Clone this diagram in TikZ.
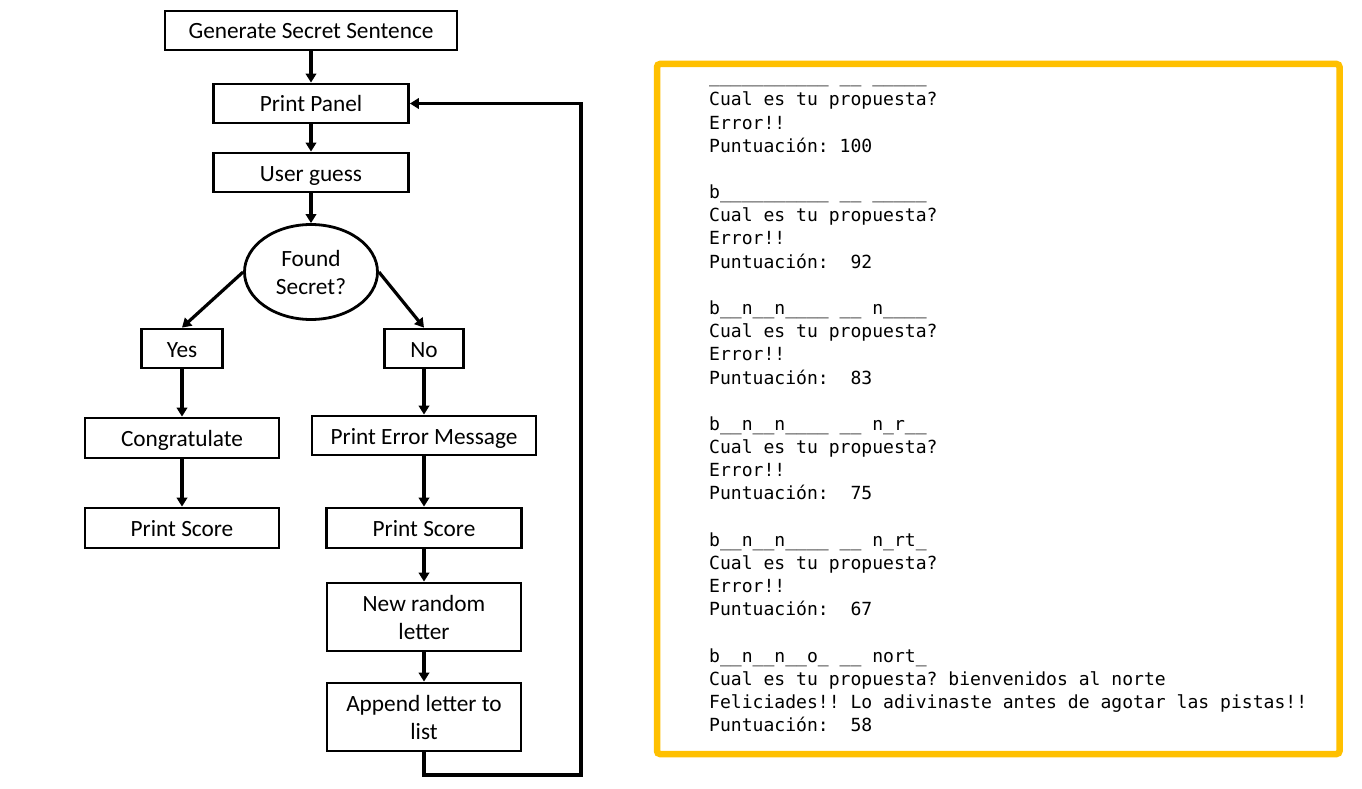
\documentclass[tikz,border=0pt]{standalone}
\usepackage{fontspec}
\setmainfont{Carlito}
\newfontfamily\termfont{DejaVu Sans Mono}
\usetikzlibrary{shapes.geometric,arrows.meta}
\definecolor{termyellow}{HTML}{FFC000}

\begin{document}
\begin{tikzpicture}[x=1pt,y=-1pt,
  flow/.style={font=\fontsize{23.3}{28}\selectfont, align=center, inner sep=0pt},
  box/.style={flow, draw, line width=2.8pt, rectangle},
  oneline/.style={text height=18pt, text depth=1pt},
  decision/.style={flow, draw, line width=2.8pt, ellipse, minimum width=133pt, minimum height=95pt},
  link/.style={line width=3.2pt, -{Triangle[length=9pt,width=10.5pt]}},
  termline/.style={font=\termfont\fontsize{18.06}{23}\selectfont\frenchspacing, anchor=base west, inner sep=0pt},
  frame/.style={draw=termyellow, line width=6.5pt, rounded corners=3pt, inner sep=0pt}]

% canvas
\fill[white] (0,0) rectangle (1362,789);
\useasboundingbox (0,0) rectangle (1362,789);

% ---------- flowchart ----------
\node[box, oneline, minimum width=292pt, minimum height=39pt] (gen)    at (311,30.5)  {Generate Secret Sentence};
\node[box, oneline, minimum width=195pt, minimum height=39pt] (panel)  at (311,103.5) {Print Panel};
\node[box, oneline, minimum width=195pt, minimum height=39pt] (guess)  at (311,172.5) {User guess};
\node[decision]                                               (found)  at (311,272)   {Found\\Secret?};
\node[box, oneline, minimum width=81pt,  minimum height=39pt] (yes)    at (182,348.5) {Yes};
\node[box, oneline, minimum width=79pt,  minimum height=39pt] (no)     at (424,348.5) {No};
\node[box, oneline, minimum width=194pt, minimum height=40pt] (congr)  at (182,438)   {Congratulate};
\node[box, oneline, minimum width=194pt, minimum height=40pt] (scoreL) at (182,528)   {Print Score};
\node[box, oneline, minimum width=224pt, minimum height=39pt] (err)    at (424,435.5) {Print Error Message};
\node[box, oneline, minimum width=195pt, minimum height=40pt] (scoreR) at (424,528)   {Print Score};
\node[box, minimum width=194pt, minimum height=68pt]          (newl)   at (424,617)   {New random\\letter};
\node[box, minimum width=194pt, minimum height=68pt]          (append) at (424,717)   {Append letter to\\list};

\draw[link] (gen) -- (panel);
\draw[link] (panel) -- (guess);
\draw[link] (guess) -- (found);
\draw[link] (found.west) -- (yes.north);
\draw[link] (found.east) -- (no.north);
\draw[link] (yes) -- (congr);
\draw[link] (congr) -- (scoreL);
\draw[link] (no) -- (err);
\draw[link] (err) -- (scoreR);
\draw[link] (scoreR) -- (newl);
\draw[link] (newl) -- (append);

% loop back to the panel
\coordinate (loopA) at (424,775);
\coordinate (loopB) at (581,775);
\coordinate (loopC) at (581,103.5);
\draw[link] (append.south) -- (loopA) -- (loopB) -- (loopC) -- (panel.east);

% ---------- console output ----------
\node[frame, minimum width=682.5pt, minimum height=690pt] (console) at (998.25,409) {};

\node[termline] (l0)  at (709,82.8)   {\_\_\_\_\_\_\_\_\_\_\_ \_\_ \_\_\_\_\_};
\node[termline] (l1)  at (709,105.97) {Cual es tu propuesta?};
\node[termline] (l2)  at (709,129.14) {Error!!};
\node[termline] (l3)  at (709,152.31) {Puntuación: 100};

\node[termline] (l5)  at (709,198.65) {b\_\_\_\_\_\_\_\_\_\_ \_\_ \_\_\_\_\_};
\node[termline] (l6)  at (709,221.82) {Cual es tu propuesta?};
\node[termline] (l7)  at (709,244.99) {Error!!};
\node[termline] (l8)  at (709,268.16) {Puntuación:\ \ 92};

\node[termline] (l10) at (709,314.5)  {b\_\_n\_\_n\_\_\_\_ \_\_ n\_\_\_\_};
\node[termline] (l11) at (709,337.67) {Cual es tu propuesta?};
\node[termline] (l12) at (709,360.84) {Error!!};
\node[termline] (l13) at (709,384.01) {Puntuación:\ \ 83};

\node[termline] (l15) at (709,430.35) {b\_\_n\_\_n\_\_\_\_ \_\_ n\_r\_\_};
\node[termline] (l16) at (709,453.52) {Cual es tu propuesta?};
\node[termline] (l17) at (709,476.69) {Error!!};
\node[termline] (l18) at (709,499.86) {Puntuación:\ \ 75};

\node[termline] (l20) at (709,546.2)  {b\_\_n\_\_n\_\_\_\_ \_\_ n\_rt\_};
\node[termline] (l21) at (709,569.37) {Cual es tu propuesta?};
\node[termline] (l22) at (709,592.54) {Error!!};
\node[termline] (l23) at (709,615.71) {Puntuación:\ \ 67};

\node[termline] (l25) at (709,662.05) {b\_\_n\_\_n\_\_o\_ \_\_ nort\_};
\node[termline] (l26) at (709,685.22) {Cual es tu propuesta? bienvenidos al norte};
\node[termline] (l27) at (709,708.39) {Feliciades!! Lo adivinaste antes de agotar las pistas!!};
\node[termline] (l28) at (709,731.56) {Puntuación:\ \ 58};
\end{tikzpicture}
\end{document}
